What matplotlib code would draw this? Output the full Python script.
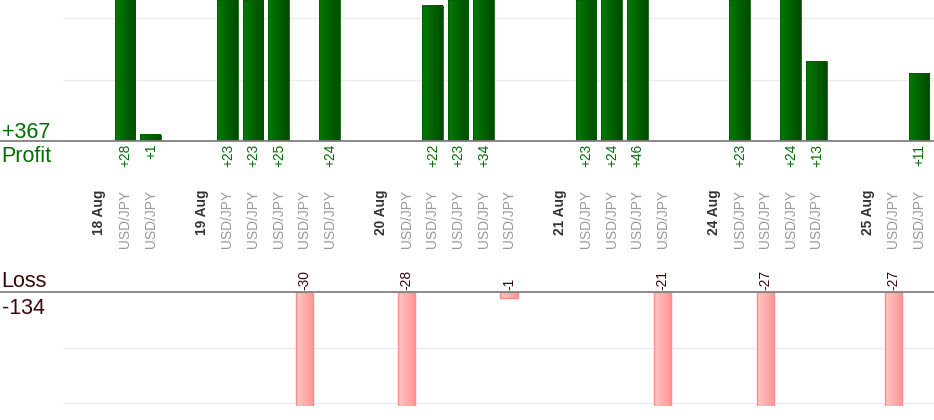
import numpy as np
import matplotlib
matplotlib.use("Agg")
import matplotlib.pyplot as plt
from matplotlib.colors import LinearSegmentedColormap

plt.rcParams['font.family'] = ['Liberation Sans', 'DejaVu Sans']

# ---- data ----
labels = ['18 Aug', 'USD/JPY', 'USD/JPY', '',
          '19 Aug', 'USD/JPY', 'USD/JPY', 'USD/JPY', 'USD/JPY', 'USD/JPY', '',
          '20 Aug', 'USD/JPY', 'USD/JPY', 'USD/JPY', 'USD/JPY', 'USD/JPY', '',
          '21 Aug', 'USD/JPY', 'USD/JPY', 'USD/JPY', 'USD/JPY', '',
          '24 Aug', 'USD/JPY', 'USD/JPY', 'USD/JPY', 'USD/JPY', '',
          '25 Aug', 'USD/JPY', 'USD/JPY']
profit = [None, 28, 1, None,
          None, 23, 23, 25, None, 24, None,
          None, None, 22, 23, 34, None, None,
          None, 23, 24, 46, None, None,
          None, 23, None, 24, 13, None,
          None, None, 11]
loss = [None, None, None, None,
        None, None, None, None, -30, None, None,
        None, -28, None, None, None, -1, None,
        None, None, None, None, -21, None,
        None, None, -27, None, None, None,
        None, -27, None]
date_labels = {'18 Aug', '19 Aug', '20 Aug', '21 Aug', '24 Aug', '25 Aug'}

W, H = 934, 420
fig = plt.figure(figsize=(W / 100, H / 100), dpi=100)
ax1 = fig.add_axes([63 / W, (H - 141) / H, 871 / W, 141 / H])
ax2 = fig.add_axes([63 / W, (H - 406.3) / H, 871 / W, (406.3 - 292.3) / H])

green = '#006e00'
maroon = '#3c0505'
PX = 0.72  # points per pixel

x = np.arange(len(labels))
px_ = [i for i, v in enumerate(profit) if v is not None]
pv = [profit[i] for i in px_]
lx = [i for i, v in enumerate(loss) if v is not None]
lv = [loss[i] for i in lx]

grad = np.linspace(0, 1, 256).reshape(1, -1)
gcmap = LinearSegmentedColormap.from_list('g', ['#007c00', '#004a00'])
rcmap = LinearSegmentedColormap.from_list('r', ['#ffc6c6', '#ff9494'])

def gradient_bars(ax, bars, cmap):
    for rect in bars:
        x0, w = rect.get_x(), rect.get_width()
        y0, h = rect.get_y(), rect.get_height()
        im = ax.imshow(grad, extent=[x0, x0 + w, y0, y0 + h], aspect='auto',
                       cmap=cmap, zorder=3, interpolation='bilinear')
        im.set_clip_path(rect)
        im.set_clip_box(ax.bbox)

b1 = ax1.bar(px_, pv, width=0.81, facecolor='none', edgecolor='#005a00',
             linewidth=0.6, zorder=4)
gradient_bars(ax1, b1, gcmap)
b2 = ax2.bar(lx, lv, width=0.68, facecolor='none', edgecolor='#ff8c8c',
             linewidth=1.0, zorder=4)
gradient_bars(ax2, b2, rcmap)

for xi, v in zip(px_, pv):
    ax1.annotate(f'+{v}', xy=(xi, 0), xytext=(0.5, -3 * PX), textcoords='offset points',
                 rotation=90, ha='center', va='top', fontsize=9.9, color=green,
                 annotation_clip=False)
for xi, v in zip(lx, lv):
    ax2.annotate(f'{v}', xy=(xi, 0), xytext=(0, 2 * PX), textcoords='offset points',
                 rotation=90, ha='center', va='bottom', fontsize=9.9, color=maroon,
                 annotation_clip=False)

for ax in (ax1, ax2):
    for s in ax.spines.values():
        s.set_visible(False)
    ax.set_xlim(-1.42, 32.59)
    ax.tick_params(left=False, labelleft=False)
    ax.yaxis.grid(True, color='#ebebeb', linewidth=1.0)
    ax.set_axisbelow(True)
    ax.axhline(0, xmin=-63 / 871, xmax=1, color='#808080', linewidth=1.3,
               clip_on=False, zorder=6)

ax1.set_ylim(0, 22.93)
ax1.set_yticks([10, 20])
ax2.set_ylim(-20.55, 0)
ax2.set_yticks([-10, -20])

ax1.set_xticks(x)
ax1.set_xticklabels(labels, rotation=90, fontsize=9.9)
ax1.tick_params(axis='x', length=0, pad=35.0, bottom=False)
for t in ax1.get_xticklabels():
    if t.get_text() in date_labels:
        t.set_color('#333333')
        t.set_fontweight('bold')
    else:
        t.set_color('#9a9a9a')
ax2.set_xticks([])

total_p = sum(pv)
total_l = sum(lv)
fs = 15.5
fig.text(2 / W, 1 - 137.7 / H, f'+{total_p}', fontsize=fs, color=green, va='baseline', ha='left')
fig.text(1.5 / W, 1 - 162.3 / H, 'Profit', fontsize=fs, color=green, va='baseline', ha='left')
fig.text(1.5 / W, 1 - 287.3 / H, 'Loss', fontsize=fs, color=maroon, va='baseline', ha='left')
fig.text(2 / W, 1 - 314.3 / H, f'{total_l}', fontsize=fs, color=maroon, va='baseline', ha='left')

fig.savefig('out.png', dpi=100)
